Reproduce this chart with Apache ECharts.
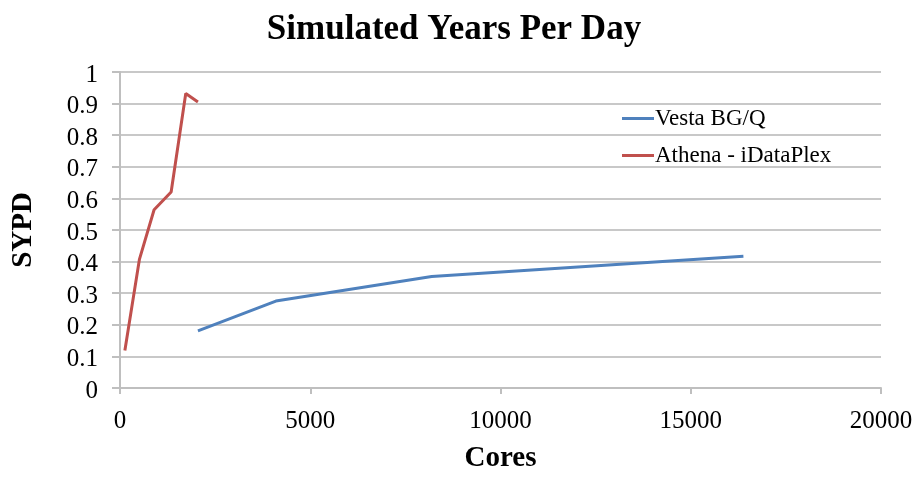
<!DOCTYPE html>
<html><head><meta charset="utf-8">
<script src="https://cdn.jsdelivr.net/npm/echarts@6/dist/echarts.min.js"></script>
<style>html,body{margin:0;padding:0;background:#fff}#c{width:919px;height:478px}</style>
</head><body><div id="c"></div>
<script>
const vestaCores = [2048, 4096, 8192, 16384];
const vestaSYPD = [0.181, 0.275, 0.353, 0.417];
const athenaCores = [128, 512, 896, 1344, 1728, 2048];
const athenaSYPD = [0.119, 0.408, 0.564, 0.62, 0.932, 0.905];
const seriesNames = ['Vesta BG/Q', 'Athena - iDataPlex'];
const titleText = 'Simulated Years Per Day';
const xName = 'Cores', yName = 'SYPD';

const font = 'Liberation Serif, Times New Roman, serif';
const chart = echarts.init(document.getElementById('c'));
chart.setOption({
  animation: false,
  title: { text: titleText, left: 449, top: 7, textAlign: 'center',
    textStyle: { fontFamily: font, fontSize: 35, fontWeight: 'bold', color: '#000' } },
  legend: { orient: 'vertical', left: 617, top: 102, itemGap: 14,
    itemWidth: 32, itemHeight: 3, icon: 'rect',
    textStyle: { fontFamily: font, fontSize: 23, color: '#000', padding: [0,0,0,-4] },
    data: seriesNames },
  grid: { left: 120, right: 38, top: 72, bottom: 86 },
  xAxis: { type: 'value', min: 0, max: 20000, interval: 5000,
    name: xName, nameLocation: 'middle', nameGap: 56,
    nameTextStyle: { fontFamily: font, fontSize: 29, fontWeight: 'bold', color: '#000' },
    axisLine: { show: true, lineStyle: { color: '#bfbfbf', width: 2 } },
    axisTick: { show: true, length: 6, lineStyle: { color: '#bfbfbf', width: 2 } },
    splitLine: { show: false },
    axisLabel: { fontFamily: font, fontSize: 25, color: '#000', margin: 21,
      formatter: v => String(v) } },
  yAxis: { type: 'value', min: 0, max: 1, interval: 0.1,
    name: yName, nameLocation: 'middle', nameGap: 82,
    nameTextStyle: { fontFamily: font, fontSize: 29, fontWeight: 'bold', color: '#000' },
    axisLine: { show: true, lineStyle: { color: '#bfbfbf', width: 2 } },
    axisTick: { show: true, length: 8, lineStyle: { color: '#bfbfbf', width: 2 } },
    splitLine: { show: true, lineStyle: { color: '#c8c8c8', width: 2 } },
    axisLabel: { color: '#000', margin: 22,
      formatter: v => '{a|' + String(+v.toFixed(1)) + '}',
      rich: { a: { fontFamily: font, fontSize: 25, color: '#000', padding: [6, 0, 0, 0] } } } },
  series: [
    { name: seriesNames[0], type: 'line', showSymbol: false, symbol: 'none',
      data: vestaCores.map((c, i) => [c, vestaSYPD[i]]),
      lineStyle: { color: '#4f81bd', width: 3 }, itemStyle: { color: '#4f81bd' } },
    { name: seriesNames[1], type: 'line', showSymbol: false, symbol: 'none',
      data: athenaCores.map((c, i) => [c, athenaSYPD[i]]),
      lineStyle: { color: '#c0504d', width: 3 }, itemStyle: { color: '#c0504d' } }
  ]
});
</script></body></html>
